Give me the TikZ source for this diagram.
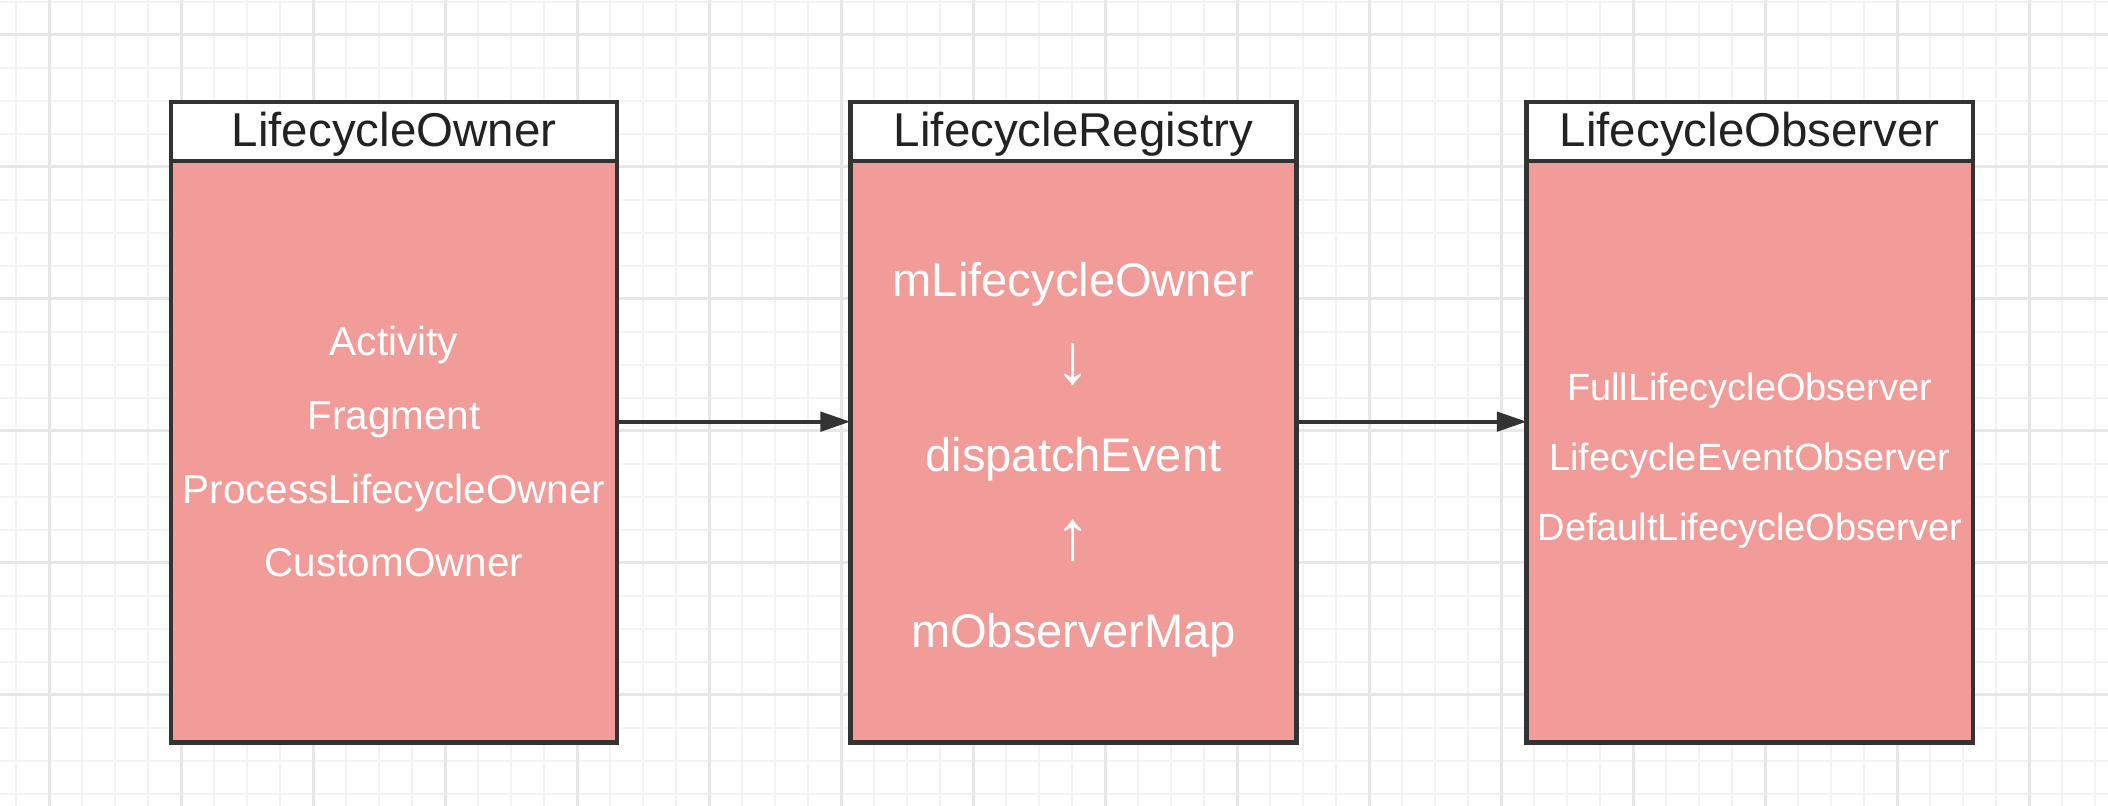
\documentclass[tikz,border=0pt]{standalone}
\usepackage{fontspec}
\setmainfont{Liberation Sans}
\usetikzlibrary{positioning,arrows.meta}
\definecolor{gridminor}{HTML}{F3F3F3}
\definecolor{gridmajor}{HTML}{E7E7E7}
\definecolor{boxfill}{HTML}{F19C99}
\definecolor{boxline}{HTML}{333333}
\definecolor{headtext}{HTML}{222222}
\newcommand{\bigarrow}[1]{{\fontsize{20}{25}\selectfont #1}}

\begin{document}
\begin{tikzpicture}[x=0.01cm,y=-0.01cm,
  head/.style={draw=boxline,line width=1.3pt,fill=white,outer sep=0pt,inner sep=0pt,
    minimum width=4.46cm,minimum height=0.59cm,text=headtext,
    text height=10pt,text depth=1.2pt,font=\fontsize{13.5}{15}\selectfont},
  body/.style={draw=boxline,line width=1.3pt,fill=boxfill,outer sep=0pt,inner sep=0pt,
    minimum width=4.46cm,minimum height=5.81cm},
  bodytext/.style={text=white,align=center,inner sep=0pt},
  link/.style={draw=boxline,line width=1.1pt,-{Triangle[length=8.5pt,width=5.5pt]}}]
% background grid
\useasboundingbox (0,0) rectangle (2108,806);
\fill[white] (0,0) rectangle (2108,806);
\foreach \k in {0,...,63} {
  \pgfmathsetmacro\gx{16.3+33*\k}
  \draw[gridminor,line width=0.6pt] (\gx,0) -- (\gx,806);
}
\foreach \k in {0,...,24} {
  \pgfmathsetmacro\gy{1.7+33*\k}
  \draw[gridminor,line width=0.6pt] (0,\gy) -- (2108,\gy);
}
\foreach \k in {1,5,...,61} {
  \pgfmathsetmacro\gx{16.3+33*\k}
  \draw[gridmajor,line width=0.7pt] (\gx,0) -- (\gx,806);
}
\foreach \k in {1,5,...,21} {
  \pgfmathsetmacro\gy{1.7+33*\k}
  \draw[gridmajor,line width=0.7pt] (0,\gy) -- (2108,\gy);
}
% the three classes
\node[head] (ownerhead) at (394,131.5) {LifecycleOwner};
\node[body,below=0pt of ownerhead] (owner) {};
\node[head,right=2.33cm of ownerhead] (registryhead) {LifecycleRegistry};
\node[body,below=0pt of registryhead] (registry) {};
\node[head,right=2.3cm of registryhead] (observerhead) {LifecycleObserver};
\node[body,below=0pt of observerhead] (observer) {};
% their members
\node[bodytext,font=\fontsize{11.5}{21}\selectfont] (ownertext) at (owner.center)
  {Activity\\Fragment\\ProcessLifecycleOwner\\CustomOwner};
\node[bodytext,font=\fontsize{13.4}{25}\selectfont] (registrytext) at ([yshift=-0.08cm]registry.center)
  {mLifecycleOwner\\\bigarrow{↓}\\dispatchEvent\\\bigarrow{↑}\\mObserverMap};
\node[bodytext,font=\fontsize{10.8}{20}\selectfont] (observertext) at ([yshift=-0.09cm]observer.center)
  {FullLifecycleObserver\\LifecycleEventObserver\\DefaultLifecycleObserver};
% links
\draw[link] ([yshift=0.3cm]owner.east) -- ([yshift=0.3cm]registry.west);
\draw[link] ([yshift=0.3cm]registry.east) -- ([yshift=0.3cm]observer.west);
\end{tikzpicture}
\end{document}
